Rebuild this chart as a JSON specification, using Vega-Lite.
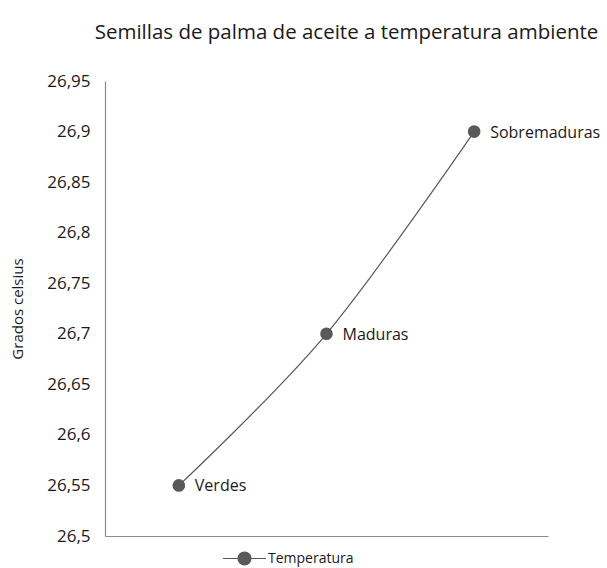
{
  "$schema": "https://vega.github.io/schema/vega-lite/v6.json",
  "width": 443,
  "height": 455,
  "autosize": {"type": "none"},
  "padding": {"left": 105, "top": 81, "right": 59, "bottom": 32},
  "title": {
    "text": "Semillas de palma de aceite a temperatura ambiente",
    "font": "Open Sans",
    "fontSize": 20.5,
    "fontWeight": "normal",
    "color": "#1a1a1a",
    "anchor": "middle",
    "dx": 20,
    "offset": 29
  },
  "config": {
    "view": {"stroke": null},
    "font": "Open Sans"
  },
  "data": {
    "values": [
      {"estado": "Verdes", "temp": 26.55, "serie": "Temperatura"},
      {"estado": "Maduras", "temp": 26.7, "serie": "Temperatura"},
      {"estado": "Sobremaduras", "temp": 26.9, "serie": "Temperatura"}
    ]
  },
  "encoding": {
    "x": {
      "field": "estado",
      "type": "nominal",
      "sort": null,
      "scale": {"type": "point", "padding": 0.5},
      "axis": {
        "title": null,
        "labels": false,
        "ticks": false,
        "grid": false,
        "domainColor": "#8c8c8c",
        "domainWidth": 1.2
      }
    },
    "y": {
      "field": "temp",
      "type": "quantitative",
      "scale": {"domain": [26.5, 26.95], "nice": false, "zero": false},
      "axis": {
        "title": "Grados celsius",
        "titleFont": "Open Sans",
        "titleFontSize": 15,
        "titleFontWeight": "normal",
        "titleColor": "#1a1a1a",
        "titlePadding": 21,
        "values": [26.5, 26.55, 26.6, 26.65, 26.7, 26.75, 26.8, 26.85, 26.9, 26.95],
        "labelExpr": "replace(format(datum.value, '.2~f'), '.', ',')",
        "labelFont": "Open Sans",
        "labelFontSize": 17,
        "labelColor": "#1a1a1a",
        "labelPadding": 15,
        "ticks": false,
        "grid": false,
        "domainColor": "#8c8c8c",
        "domainWidth": 1.2
      }
    }
  },
  "layer": [
    {
      "mark": {"type": "line", "interpolate": "cardinal", "strokeWidth": 1.2},
      "encoding": {
        "color": {
          "field": "serie",
          "type": "nominal",
          "scale": {"range": ["#595959"]},
          "legend": {
            "title": null,
            "orient": "none",
            "legendX": 117,
            "legendY": 455,
            "padding": 0,
            "symbolType": "M-1,0H-0.3M0.3,0H1M0.3,0A0.3,0.3,0,1,1,-0.3,0A0.3,0.3,0,1,1,0.3,0Z",
            "symbolSize": 1849,
            "symbolFillColor": "#595959",
            "symbolStrokeColor": "#595959",
            "symbolStrokeWidth": 1.2,
            "labelFont": "Open Sans",
            "labelFontSize": 14,
            "labelColor": "#1a1a1a",
            "labelOffset": 1
          }
        }
      }
    },
    {
      "mark": {"type": "point", "filled": true, "size": 160, "opacity": 1, "color": "#595959"}
    },
    {
      "mark": {"type": "text", "align": "left", "baseline": "middle", "dx": 16, "dy": 1, "fontSize": 16, "font": "Open Sans", "color": "#1a1a1a"},
      "encoding": {"text": {"field": "estado"}}
    }
  ]
}
